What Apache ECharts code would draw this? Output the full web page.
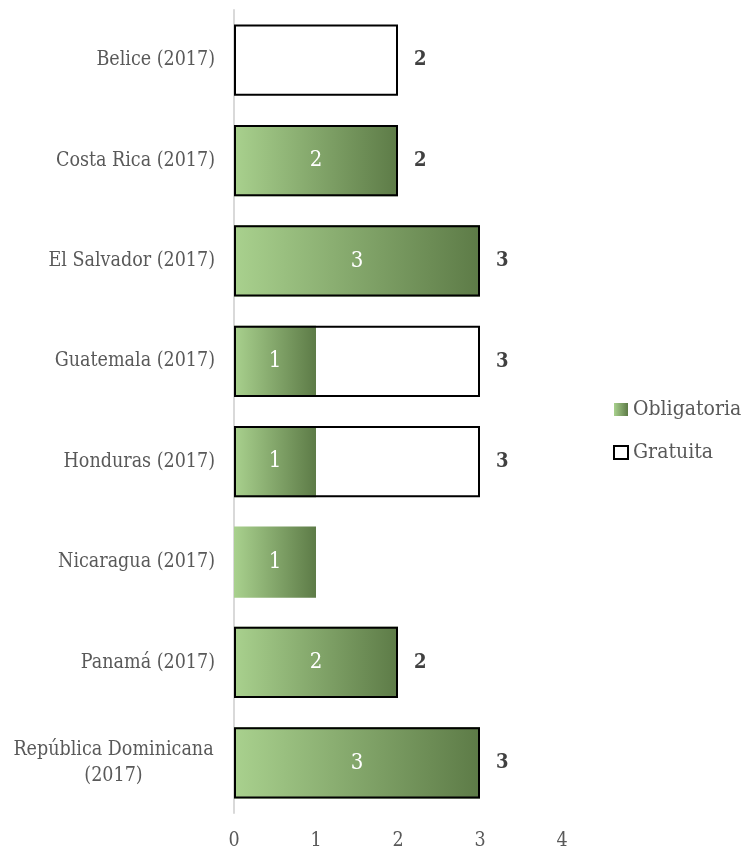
<!DOCTYPE html>
<html>
<head>
<meta charset="utf-8">
<script src="https://cdn.jsdelivr.net/npm/echarts@6/dist/echarts.min.js"></script>
<style>
html,body{margin:0;padding:0;background:#fff;}
#chart{width:744px;height:851px;}
</style>
</head>
<body>
<div id="chart"></div>
<script>
const categories = [
  'Belice (2017)',
  'Costa Rica (2017)',
  'El Salvador (2017)',
  'Guatemala (2017)',
  'Honduras (2017)',
  'Nicaragua (2017)',
  'Panamá (2017)',
  'República Dominicana\n(2017)'
];
const obligatoria = [null, 2, 3, 1, 1, 1, 2, 3];
const gratuita = [2, 2, 3, 3, 3, null, 2, 3];
const xTicks = [0, 1, 2, 3, 4];

const FONT = '"DejaVu Serif Condensed", "DejaVu Serif", serif';
const chart = echarts.init(document.getElementById('chart'));
const green = {
  type: 'linear', x: 0, y: 0, x2: 1, y2: 0,
  colorStops: [{offset: 0, color: '#a9d18e'}, {offset: 1, color: '#5d7b47'}]
};
chart.setOption({
  backgroundColor: '#fff',
  animation: false,
  grid: {left: 234, right: 182, top: 10, bottom: 36, containLabel: false},
  legend: {
    orient: 'vertical',
    left: 608,
    top: 394,
    itemGap: 22,
    itemWidth: 14,
    itemHeight: 13,
    icon: 'rect',
    textStyle: {fontFamily: FONT, fontSize: 21, color: '#595959', padding: [0, 0, 0, 0]},
    data: [
      {name: 'Obligatoria'},
      {name: 'Gratuita', itemStyle: {color: '#fff', borderColor: '#000', borderWidth: 2}}
    ]
  },
  xAxis: {
    type: 'value',
    min: xTicks[0],
    max: xTicks[xTicks.length - 1],
    interval: 1,
    axisLine: {show: false},
    axisTick: {show: false},
    splitLine: {show: false},
    axisLabel: {fontFamily: FONT, fontSize: 19.5, color: '#595959', margin: 18}
  },
  yAxis: {
    type: 'category',
    inverse: true,
    data: categories,
    axisLine: {show: true, lineStyle: {color: '#d9d9d9', width: 2}},
    axisTick: {show: false},
    axisLabel: {
      fontFamily: FONT, fontSize: 19.5, color: '#595959', margin: 19, lineHeight: 26,
      formatter: function (v) {
        if (v.indexOf('\n') < 0) return v;
        return v.split('\n').map(function (s) { return '{c|' + s + '}'; }).join('\n');
      },
      rich: {c: {width: 203, align: 'center', fontFamily: FONT, fontSize: 19.5, color: '#595959', lineHeight: 26}}
    }
  },
  series: [
    {
      name: 'Obligatoria',
      type: 'bar',
      data: obligatoria,
      barCategoryGap: '29%',
      barGap: '-100%',
      itemStyle: {color: green},
      label: {show: true, position: 'inside', color: '#fff', fontFamily: FONT, fontSize: 22}
    },
    {
      name: 'Gratuita',
      type: 'bar',
      data: gratuita,
      barCategoryGap: '29%',
      barGap: '-100%',
      itemStyle: {color: 'rgba(255,255,255,0)', borderColor: '#000', borderWidth: 2},
      label: {show: true, position: 'right', distance: 16, color: '#404040', fontWeight: 'bold', fontFamily: FONT, fontSize: 20}
    }
  ]
});
</script>
</body>
</html>
